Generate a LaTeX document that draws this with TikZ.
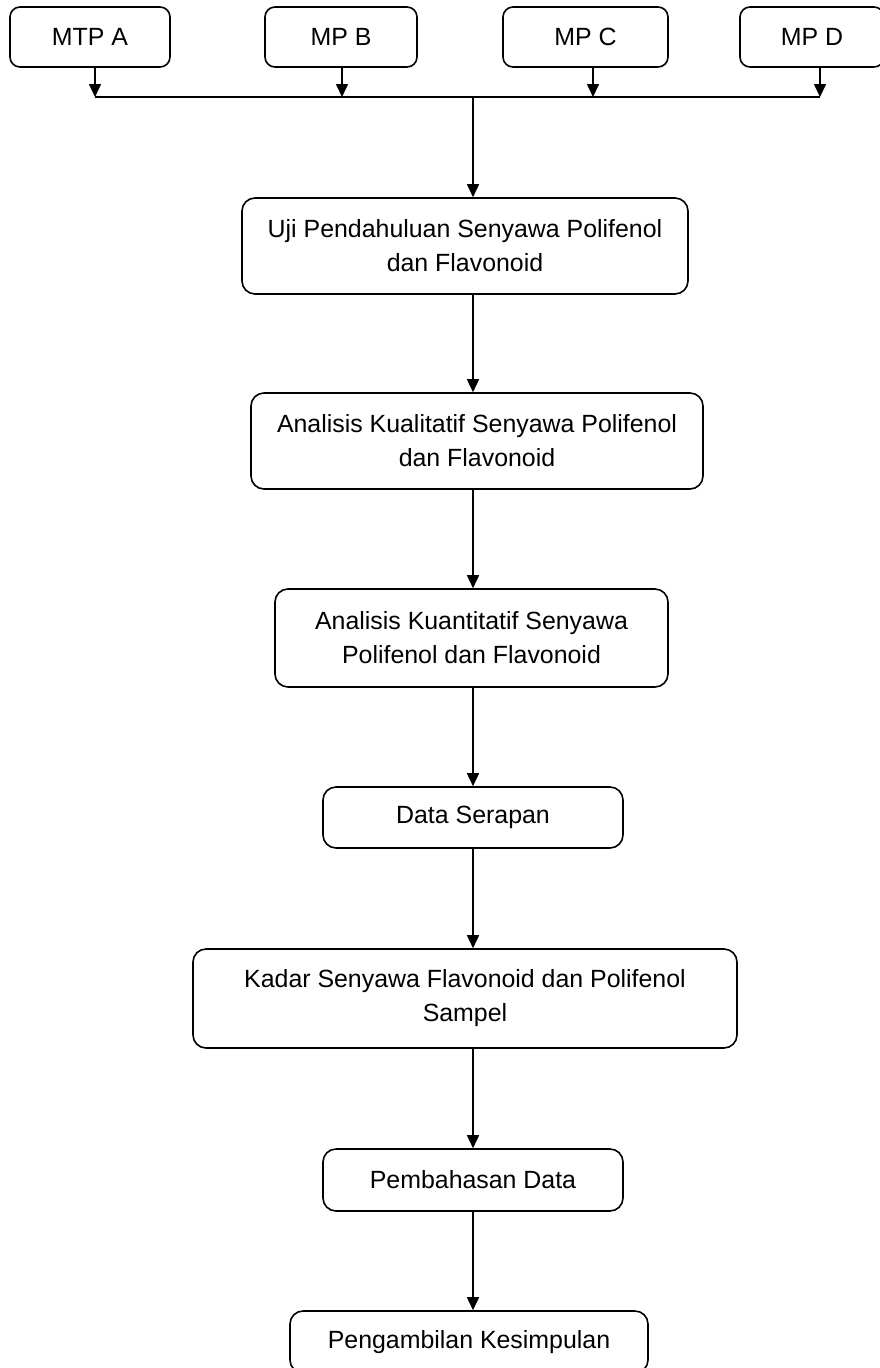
\documentclass[tikz,border=0pt]{standalone}
\usepackage{fontspec}
\setmainfont{Liberation Sans}
\usetikzlibrary{arrows.meta}
\begin{document}
\begin{tikzpicture}[x=1pt,y=-1pt,
  b/.style={rectangle,draw,line width=1.6pt,rounded corners=13pt,inner sep=0pt,align=center,font=\fontsize{24.9}{34}\selectfont},
  s/.style={b,rounded corners=10pt,minimum height=60pt},
  a/.style={line width=1.6pt,-{Triangle[length=13pt,width=12pt]}}]
  \useasboundingbox (0,0) rectangle (879,1368);
  \node[s,minimum width=160pt] (ma) at (90,37) {MTP A};
  \node[s,minimum width=152pt] (mb) at (341,37) {MP B};
  \node[s,minimum width=165pt] (mc) at (585.5,37) {MP C};
  \node[s,minimum width=144pt] (md) at (812,37) {MP D};
  \coordinate (ba) at (95,97);
  \coordinate (bb) at (342,97);
  \coordinate (bc) at (593,97);
  \coordinate (bd) at (820,97);
  \coordinate (sp) at (473,97);

  \node[b,minimum width=446pt,minimum height=96pt] (uji) at (465,246) {Uji Pendahuluan Senyawa Polifenol\\dan Flavonoid};
  \node[b,minimum width=452pt,minimum height=96pt] (kual) at (477,441) {Analisis Kualitatif Senyawa Polifenol\\dan Flavonoid};
  \node[b,minimum width=393pt,minimum height=98pt] (kuan) at (471.5,638) {Analisis Kuantitatif Senyawa\\Polifenol dan Flavonoid};
  \node[b,minimum width=300pt,minimum height=61pt] (data) at (473,817.5) {Data Serapan};
  \node[b,minimum width=544pt,minimum height=99pt] (kadar) at (465,998.5) {Kadar Senyawa Flavonoid dan Polifenol\\Sampel};
  \node[b,minimum width=300pt,minimum height=62pt] (bahas) at (473,1180) {Pembahasan Data};
  \node[b,minimum width=358pt,minimum height=62pt] (simpul) at (469,1342) {Pengambilan Kesimpulan};

  \draw[a] (ma.south -| ba) -- (ba);
  \draw[a] (mb.south -| bb) -- (bb);
  \draw[a] (mc.south -| bc) -- (bc);
  \draw[a] (md.south -| bd) -- (bd);
  \draw[line width=1.6pt] (ba) -- (bd);
  \draw[a] (sp) -- (sp |- uji.north);
  \draw[a] (sp |- uji.south) -- (sp |- kual.north);
  \draw[a] (sp |- kual.south) -- (sp |- kuan.north);
  \draw[a] (sp |- kuan.south) -- (sp |- data.north);
  \draw[a] (sp |- data.south) -- (sp |- kadar.north);
  \draw[a] (sp |- kadar.south) -- (sp |- bahas.north);
  \draw[a] (sp |- bahas.south) -- (sp |- simpul.north);
\end{tikzpicture}
\end{document}
